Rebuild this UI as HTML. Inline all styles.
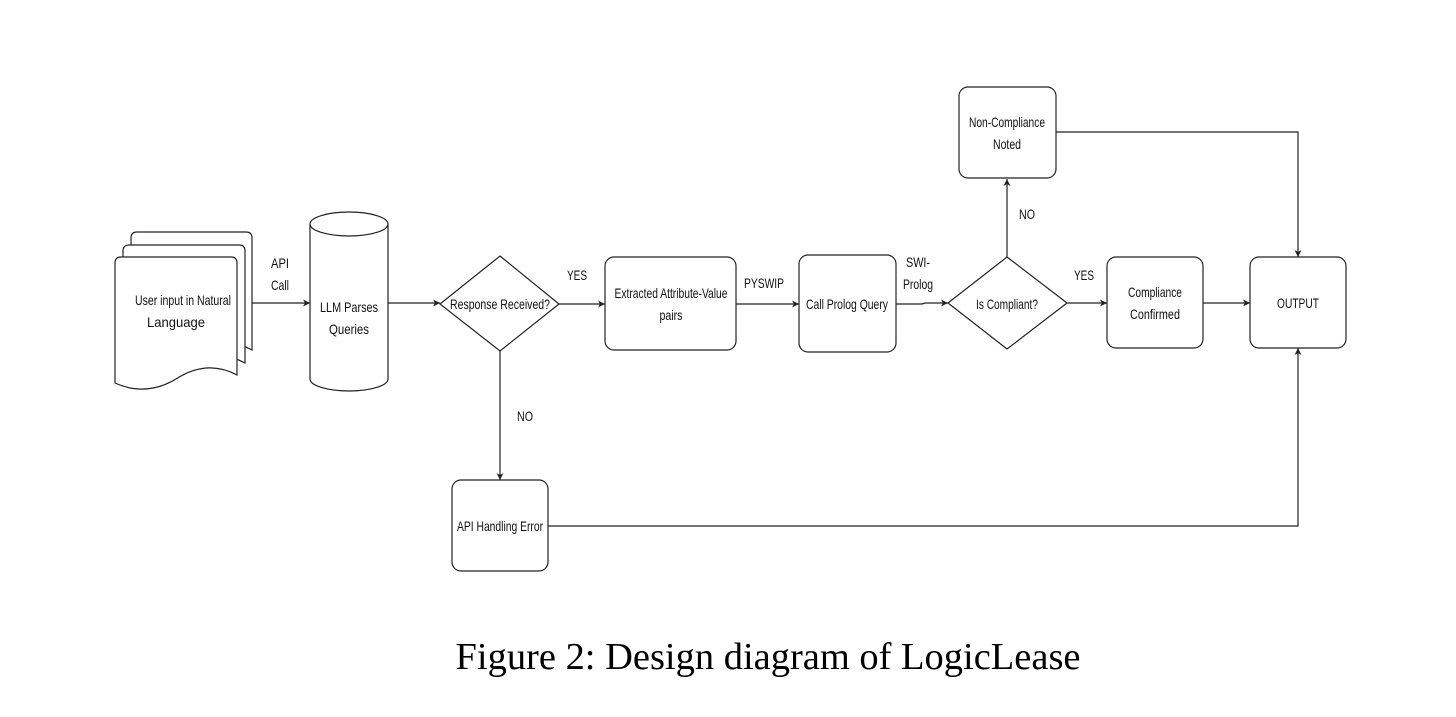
<!DOCTYPE html>
<html><head><meta charset="utf-8"><style>
html,body{margin:0;padding:0;background:#fff;}
svg{display:block;}
.t{font-family:"Liberation Sans",sans-serif;font-size:14px;fill:#111;text-anchor:middle;}
.c{font-family:"Liberation Serif",serif;font-size:38px;fill:#000;text-anchor:middle;}
.s{fill:#fff;stroke:#222;stroke-width:1.2;}
.l{fill:none;stroke:#222;stroke-width:1.2;}
</style></head><body>
<svg width="1456" height="717" viewBox="0 0 1456 717" xmlns="http://www.w3.org/2000/svg">
<defs><marker id="a" markerWidth="8" markerHeight="8" refX="7" refY="4" orient="auto" markerUnits="userSpaceOnUse"><path d="M0,0.5 L7,4 L0,7.5 L2,4 z" fill="#222"/></marker></defs>
<rect width="1456" height="717" fill="#fff"/>
<path class="s" d="M131,238 q0,-6 6,-6 h109 q6,0 6,6 v112 q-30,-16 -60,4 q-30,18 -61,4 z"/>
<path class="s" d="M123,251 q0,-6 6,-6 h110 q6,0 6,6 v112 q-30,-16 -61,4 q-30,18 -61,4 z"/>
<path class="s" d="M115,263 q0,-6 6,-6 h110 q6,0 6,6 v112 q-30,-16 -61,4 q-30,18 -61,4 z"/>
<text class="t" x="183" y="305" textLength="96" lengthAdjust="spacingAndGlyphs">User input in Natural</text>
<text class="t" x="176" y="327" textLength="58" lengthAdjust="spacingAndGlyphs">Language</text>
<path class="s" d="M310,224 v155 a39,12 0 0 0 78,0 v-155"/>
<ellipse class="s" cx="349" cy="224" rx="39" ry="12"/>
<text class="t" x="349" y="312" textLength="58" lengthAdjust="spacingAndGlyphs">LLM Parses</text>
<text class="t" x="349" y="334" textLength="40" lengthAdjust="spacingAndGlyphs">Queries</text>
<line class="l" x1="252" y1="303" x2="310" y2="303" marker-end="url(#a)"/>
<text class="t" x="280" y="268" textLength="18" lengthAdjust="spacingAndGlyphs">API</text>
<text class="t" x="280" y="290" textLength="18" lengthAdjust="spacingAndGlyphs">Call</text>
<line class="l" x1="388" y1="303" x2="440" y2="303" marker-end="url(#a)"/>
<path class="s" d="M500,256 L559,304 L500,351 L440,304 z"/>
<text class="t" x="500" y="309" textLength="100" lengthAdjust="spacingAndGlyphs">Response Received?</text>
<line class="l" x1="559" y1="304" x2="605" y2="304" marker-end="url(#a)"/>
<text class="t" x="577" y="280" textLength="20" lengthAdjust="spacingAndGlyphs">YES</text>
<line class="l" x1="500" y1="351" x2="500" y2="480" marker-end="url(#a)"/>
<text class="t" x="525" y="421" textLength="16" lengthAdjust="spacingAndGlyphs">NO</text>
<rect class="s" x="605" y="257" width="131" height="93" rx="9"/>
<text class="t" x="671" y="298" textLength="113" lengthAdjust="spacingAndGlyphs">Extracted Attribute-Value</text>
<text class="t" x="671" y="320" textLength="23" lengthAdjust="spacingAndGlyphs">pairs</text>
<line class="l" x1="736" y1="304" x2="799" y2="304" marker-end="url(#a)"/>
<text class="t" x="764" y="288" textLength="40" lengthAdjust="spacingAndGlyphs">PYSWIP</text>
<rect class="s" x="799" y="255" width="97" height="97" rx="9"/>
<text class="t" x="847" y="309" textLength="82" lengthAdjust="spacingAndGlyphs">Call Prolog Query</text>
<path class="l" d="M896,304 H922 L925,303 H948" marker-end="url(#a)"/>
<text class="t" x="918" y="267" textLength="24" lengthAdjust="spacingAndGlyphs">SWI-</text>
<text class="t" x="918" y="289" textLength="30" lengthAdjust="spacingAndGlyphs">Prolog</text>
<path class="s" d="M1007,257 L1067,303 L1007,349 L948,303 z"/>
<text class="t" x="1007" y="309" textLength="62" lengthAdjust="spacingAndGlyphs">Is Compliant?</text>
<line class="l" x1="1007" y1="257" x2="1007" y2="179" marker-end="url(#a)"/>
<text class="t" x="1027" y="219" textLength="16" lengthAdjust="spacingAndGlyphs">NO</text>
<line class="l" x1="1067" y1="303" x2="1107" y2="303" marker-end="url(#a)"/>
<text class="t" x="1084" y="280" textLength="20" lengthAdjust="spacingAndGlyphs">YES</text>
<rect class="s" x="959" y="87" width="97" height="91" rx="9"/>
<text class="t" x="1007" y="127" textLength="76" lengthAdjust="spacingAndGlyphs">Non-Compliance</text>
<text class="t" x="1007" y="149" textLength="28" lengthAdjust="spacingAndGlyphs">Noted</text>
<path class="l" d="M1056,132 H1298 V257" marker-end="url(#a)"/>
<rect class="s" x="1107" y="257" width="96" height="91" rx="9"/>
<text class="t" x="1155" y="297" textLength="54" lengthAdjust="spacingAndGlyphs">Compliance</text>
<text class="t" x="1155" y="319" textLength="50" lengthAdjust="spacingAndGlyphs">Confirmed</text>
<line class="l" x1="1203" y1="303" x2="1250" y2="303" marker-end="url(#a)"/>
<rect class="s" x="1250" y="257" width="96" height="91" rx="9"/>
<text class="t" x="1298" y="308" textLength="42" lengthAdjust="spacingAndGlyphs">OUTPUT</text>
<rect class="s" x="452" y="480" width="96" height="91" rx="9"/>
<text class="t" x="500" y="531" textLength="86" lengthAdjust="spacingAndGlyphs">API Handling Error</text>
<path class="l" d="M548,526 H1298 V348" marker-end="url(#a)"/>
<text class="c" x="768" y="669" textLength="625" lengthAdjust="spacingAndGlyphs">Figure 2: Design diagram of LogicLease</text>
</svg>
</body></html>
